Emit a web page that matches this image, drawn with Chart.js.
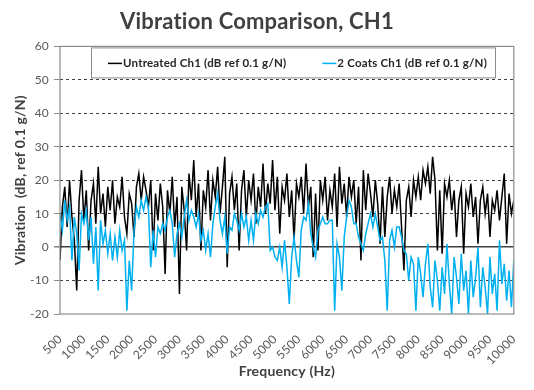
<!DOCTYPE html>
<html>
<head>
<meta charset="utf-8">
<script src="https://cdn.jsdelivr.net/npm/chart.js@4"></script>
<style>
  html, body { margin: 0; padding: 0; background: #fff; }
  #wrap { width: 534px; height: 390px; }
</style>
</head>
<body>
<div id="wrap"><canvas id="vibChart" width="534" height="390"></canvas></div>
<script>
// Sample grid: one reading every 50 Hz from 500 Hz to 10000 Hz
const freqStart = 500;
const freqStep = 50;

// Untreated Ch1 (dB ref 0.1 g/N), 10 values per 500 Hz
const untreated = [
  -4, 12, 18, 6, 20, 9, 2, -13, 14, 23,
  8, 17, -1, 14, 19, 7, 24, 10, 16, 6,
  18, 11, 20, 7, 15, 12, 21, 9, 4, 16,
  13, 3, 18, 22, 14, 21, 17, 12, 20, -1,
  16, 8, 19, 12, -8, 17, 10, 21, 6, 15,
  -14, 18, 11, -1, 22, 14, 26, 9, 19, -1,
  17, 12, 23, 8, 20, 15, 24, 10, 18, 27,
  -6, 16, 21, 11, 19, -1, 17, 23, 9, 20,
  14, 22, 7, 18, 12, 25, 10, 19, 13, 26,
  11, 21, 4, 18, 14, 22, 9, 17, 2, 19,
  15, 21, 10, 25, 12, 18, -3, 16, -1, 20,
  14, 21, 8, 17, 12, 22, 6, 24, 13, 19,
  9, 21, 15, 20, 7, 18, -4, 23, 11, 22,
  16, 9, 20, 13, 1, 18, 3, 15, 21, 10,
  17, 12, 19, 6, -7, 14, 18, 9, 20, 15,
  21, 14, 23, 19, 24, 16, 27, 20, -1, 17,
  -2, 19, 15, 20, 11, 17, 3, 14, 18, -2,
  16, 12, 19, 9, 15, 1, 14, 18, 10, 16,
  3, 14, 11, 17, 8, 15, 22, 1, 16, 10,
  14
];

// 2 Coats Ch1 (dB ref 0.1 g/N)
const twoCoats = [
  10, 5, 14, 8, 12, -4, 9, 4, -7, 10,
  7, 11, 2, 9, -5, 6, -13, 8, 1, 5,
  -2, 4, -4, 3, -3, 5, -1, 2, -19, -4,
  -13, 5, 12, 9, 14, 11, 15, 12, -6, 5,
  -3, 6, 4, 7, 5, 9, 11, 7, -3, 4,
  7, 3, 9, 14, 8, 11, 9, 6, 10, 2,
  5, -1, 4, -3, 7, 12, 16, 8, 4, 9,
  -2, 6, 5, 10, 8, 5, 10, 6, 9, 2,
  8, 2, 10, 7, 11, 9, 12, 13, -1, 0,
  -3, -4, 0, -6, 2, -6, -17, -3, 3, -4,
  -9, 5, 9, 8, 13, 4, 0, -3, 5, 7,
  9, 7, 7, 8, 8, -19, 1, -3, -13, 3,
  9, 14, 12, 7, 7, 3, 1, -1, 4, 7,
  10, 6, 10, 6, 2, 3, -4, -19, 2, 5,
  0, 6, 6, 3, -1, -2, -10, -3, -5, -19,
  -3, -8, -15, -5, 1, -12, -18, -4, -10, -19,
  -6, -14, 1, -11, -20, -3, -9, -17, -2, -13,
  -7, -20, -4, -15, -9, 0, -18, -6, -12, -20,
  -3, -14, -8, -19, 2, -11, -5, -16, -7, -18,
  -4
];

const seriesLabels = ["Untreated Ch1 (dB ref 0.1 g/N)", "2 Coats Ch1 (dB ref 0.1 g/N)"];
const seriesColors = ["#000000", "#00B0F0"];

const toPoints = (values) => values.map((v, i) => ({ x: freqStart + i * freqStep, y: v }));

Chart.defaults.font.family = "Lato, 'Open Sans', sans-serif";
Chart.defaults.color = "#595959";

// small letter spacing keeps Lato from joining "ti"
const textSpacing = {
  id: "textSpacing",
  beforeDraw(chart) {
    chart.ctx.letterSpacing = "0.2px";
  },
};

// Grey frame around the plot area
const plotFrame = {
  id: "plotFrame",
  afterDatasetsDraw(chart) {
    const { ctx, chartArea: a } = chart;
    ctx.save();
    ctx.strokeStyle = "#8c8c8c";
    ctx.lineWidth = 1.2;
    ctx.strokeRect(a.left, a.top, a.right - a.left, a.bottom - a.top);
    ctx.restore();
  },
};

// Legend drawn as a boxed row inside the top of the plot
const boxLegend = {
  id: "boxLegend",
  afterDatasetsDraw(chart) {
    const { ctx, chartArea: a } = chart;
    const x = a.left + 31;
    const y = a.top + 1;
    const w = 404;
    const h = 30;
    ctx.save();
    ctx.fillStyle = "#ffffff";
    ctx.fillRect(x, y, w, h);
    ctx.strokeStyle = "#8c8c8c";
    ctx.lineWidth = 1;
    ctx.strokeRect(x + 0.5, y + 0.5, w, h);
    ctx.font = "bold 11.5px Lato, 'Open Sans', sans-serif";
    ctx.textBaseline = "middle";
    const cy = y + h / 2 + 1;
    let cx = x + 17;
    chart.data.datasets.forEach((ds) => {
      ctx.strokeStyle = ds.borderColor;
      ctx.lineWidth = 1.5;
      ctx.beginPath();
      ctx.moveTo(cx, cy);
      ctx.lineTo(cx + 14, cy);
      ctx.stroke();
      cx += 15;
      ctx.fillStyle = "#262626";
      ctx.fillText(ds.label, cx, cy);
      cx += ctx.measureText(ds.label).width + 36;
    });
    ctx.restore();
  },
};

const container = document.getElementById("vibChart");

new Chart(container, {
  type: "line",
  data: {
    datasets: [
      {
        label: seriesLabels[0],
        data: toPoints(untreated),
        borderColor: seriesColors[0],
        borderWidth: 1.5,
        pointRadius: 0,
        tension: 0,
        order: 2,
      },
      {
        label: seriesLabels[1],
        data: toPoints(twoCoats),
        borderColor: seriesColors[1],
        borderWidth: 1.5,
        pointRadius: 0,
        tension: 0,
        order: 1,
      },
    ],
  },
  options: {
    responsive: false,
    animation: false,
    layout: { padding: { left: 0, right: 20, top: 0, bottom: 0 } },
    plugins: {
      legend: { display: false },
      tooltip: { enabled: false },
      title: {
        display: true,
        text: "Vibration Comparison, CH1",
        color: "#404040",
        font: { size: 22, weight: "bold" },
        padding: { top: 9, bottom: 11 },
      },
    },
    scales: {
      x: {
        type: "linear",
        min: 500,
        max: 10000,
        afterFit: (scale) => { scale.height = 76; },
        ticks: {
          stepSize: 500,
          autoSkip: false,
          minRotation: 45,
          maxRotation: 45,
          padding: 10,
          font: { size: 12 },
          color: "#595959",
          callback: (v) => String(v),
        },
        grid: { display: false },
        border: { display: false },
        title: {
          display: true,
          text: "Frequency (Hz)",
          color: "#404040",
          font: { size: 14, weight: "bold" },
          padding: { bottom: 10 },
        },
      },
      y: {
        min: -20,
        max: 60,
        afterFit: (scale) => { scale.width = 60; },
        ticks: {
          stepSize: 10,
          padding: 5,
          font: { size: 12 },
          color: "#595959",
        },
        grid: {
          tickLength: 6,
          tickColor: "#8c8c8c",
          color: (c) => {
            const v = c.tick ? c.tick.value : null;
            if (v === 60 || v === -20) return "rgba(0,0,0,0)";
            return "#404040";
          },
          lineWidth: (c) => (c.tick && c.tick.value === 0 ? 1.6 : 1),
        },
        border: {
          display: false,
          dash: (c) => (c.tick && c.tick.value !== 0 ? [3, 3] : []),
        },
        title: {
          display: true,
          text: "Vibration  (dB, ref 0.1 g/N)",
          color: "#404040",
          font: { size: 14, weight: "bold" },
          padding: { top: 12 },
        },
      },
    },
  },
  plugins: [textSpacing, plotFrame, boxLegend],
});
</script>
</body>
</html>
